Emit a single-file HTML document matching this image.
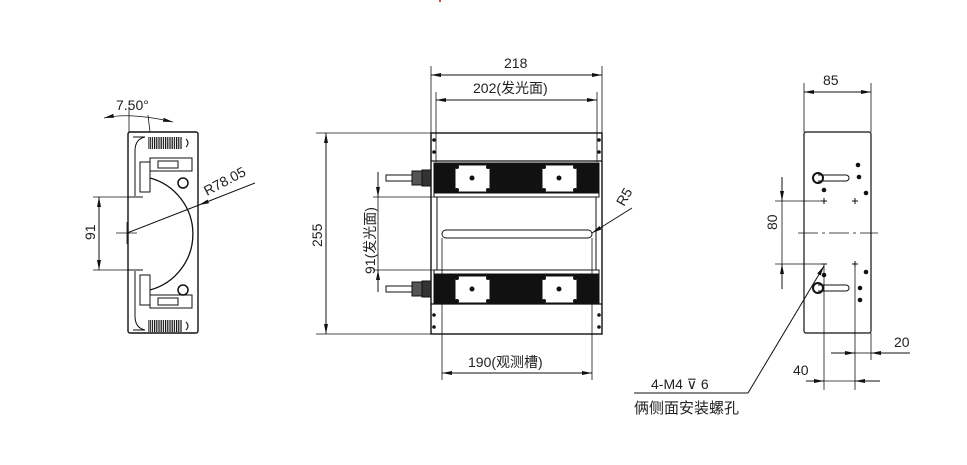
<!DOCTYPE html>
<html><head><meta charset="utf-8"><style>
html,body{margin:0;padding:0;background:#fff;}
svg{display:block}
text{font-family:"Liberation Sans","Noto Sans CJK SC",sans-serif;fill:#222;}
</style></head><body>
<svg width="967" height="465" viewBox="0 0 967 465" xmlns="http://www.w3.org/2000/svg">
<defs>
<marker id="a" viewBox="0 0 10 4" refX="10" refY="2" markerWidth="10" markerHeight="4" orient="auto-start-reverse" markerUnits="userSpaceOnUse"><path d="M0,0 L10,2 L0,4z" fill="#111"/></marker>
<pattern id="fin" width="2.2" height="10" patternUnits="userSpaceOnUse"><rect width="1.2" height="10" fill="#111"/></pattern>
</defs>
<rect x="439" y="0" width="2" height="2" fill="#d44"/>
<g stroke="#111" stroke-width="1" fill="none">
<!-- ===== LEFT VIEW ===== -->
<rect x="128" y="132" width="70" height="201" rx="2" stroke-width="1.4"/>
<rect x="148" y="137" width="34" height="12" fill="url(#fin)" stroke="none"/>
<rect x="148" y="320" width="34" height="12" fill="url(#fin)" stroke="none"/>
<path d="M186,139 q4,4 0,8 M186,322 q4,4 0,8"/>
<path d="M133,137 h12 q-10,2 -10,14 v45 M133,330 h12 q-10,-2 -10,-14 v-45"/>
<rect x="150" y="158" width="42" height="13"/><rect x="158" y="161" width="20" height="7"/>
<rect x="150" y="295" width="42" height="13"/><rect x="158" y="298" width="20" height="7"/>
<rect x="140" y="162" width="10" height="30"/><rect x="140" y="275" width="10" height="30"/>
<circle cx="183" cy="183" r="5" stroke-width="1.5"/><circle cx="183" cy="290" r="5" stroke-width="1.5"/>
<path d="M150,178 A58,58 0 0 1 150,290" stroke-width="1.3"/>
<path d="M128,197 h15 M128,270 h15"/>
<line x1="93" y1="197" x2="128" y2="197" stroke-width="0.8"/>
<line x1="93" y1="270" x2="128" y2="270" stroke-width="0.8"/>
<line x1="99" y1="197" x2="99" y2="270" marker-start="url(#a)" marker-end="url(#a)"/>
<line x1="116" y1="233" x2="137" y2="233" stroke-width="0.8"/>
<line x1="127" y1="222" x2="127" y2="244" stroke-width="0.8"/>
<line x1="127" y1="233" x2="199" y2="205"/>
<line x1="199" y1="205" x2="255" y2="183" marker-start="url(#a)"/>
<line x1="129" y1="107" x2="129" y2="132" stroke-width="0.8"/>
<line x1="148" y1="115" x2="150" y2="132" stroke-width="0.8"/>
<path d="M104,118 Q130,112 173,122" marker-start="url(#a)" marker-end="url(#a)" stroke-width="0.8"/>
<!-- ===== MIDDLE VIEW ===== -->
<line x1="431" y1="66" x2="431" y2="133" stroke-width="0.8"/>
<line x1="602" y1="66" x2="602" y2="133" stroke-width="0.8"/>
<line x1="431" y1="75" x2="602" y2="75" marker-start="url(#a)" marker-end="url(#a)"/>
<line x1="436" y1="92" x2="436" y2="162" stroke-width="0.8"/>
<line x1="597" y1="92" x2="597" y2="162" stroke-width="0.8"/>
<line x1="436" y1="100" x2="597" y2="100" marker-start="url(#a)" marker-end="url(#a)"/>
<rect x="431" y="133" width="171" height="201" stroke-width="1.4"/>
<line x1="431" y1="161" x2="602" y2="161" stroke-width="1.2"/>
<line x1="431" y1="304" x2="602" y2="304" stroke-width="1.2"/>
<rect x="434" y="163" width="165" height="30" fill="#111"/>
<rect x="434" y="274" width="165" height="30" fill="#111"/>
<rect x="434" y="193" width="165" height="4"/>
<rect x="434" y="270" width="165" height="4"/>
<line x1="437" y1="197" x2="437" y2="270"/>
<line x1="596" y1="197" x2="596" y2="270"/>
<path d="M446,230 H588 A4,4 0 0 1 588,238 H446 A4,4 0 0 1 446,230z"/>
<line x1="442" y1="238" x2="442" y2="380" stroke-width="0.8"/>
<line x1="592" y1="238" x2="592" y2="380" stroke-width="0.8"/>
<line x1="442" y1="373" x2="592" y2="373" marker-start="url(#a)" marker-end="url(#a)"/>
<line x1="316" y1="133" x2="431" y2="133" stroke-width="0.8"/>
<line x1="316" y1="334" x2="431" y2="334" stroke-width="0.8"/>
<line x1="326" y1="133" x2="326" y2="334" marker-start="url(#a)" marker-end="url(#a)"/>
<line x1="373" y1="197" x2="434" y2="197" stroke-width="0.8"/>
<line x1="373" y1="270" x2="434" y2="270" stroke-width="0.8"/>
<line x1="378" y1="172" x2="378" y2="197" marker-end="url(#a)"/>
<line x1="378" y1="292" x2="378" y2="270" marker-end="url(#a)"/>
<line x1="378" y1="197" x2="378" y2="270" stroke-width="0.8"/>
<line x1="592" y1="233" x2="632" y2="208" marker-start="url(#a)"/>
<rect x="386" y="175" width="26" height="6"/><rect x="412" y="171" width="10" height="14" fill="#555"/><rect x="422" y="170" width="9" height="16" fill="#333"/>
<rect x="386" y="286" width="26" height="6"/><rect x="412" y="282" width="10" height="14" fill="#555"/><rect x="422" y="281" width="9" height="16" fill="#333"/>
</g>
<g fill="#fff" stroke="#111">
<rect x="455" y="165" width="35" height="27"/><rect x="542" y="165" width="35" height="27"/>
<rect x="455" y="276" width="35" height="27"/><rect x="542" y="276" width="35" height="27"/>
</g>
<g fill="#111">
<circle cx="472" cy="178" r="2.5"/><circle cx="559" cy="178" r="2.5"/><circle cx="472" cy="289" r="2.5"/><circle cx="559" cy="289" r="2.5"/>
<circle cx="457" cy="167" r="2"/><circle cx="488" cy="167" r="2"/><circle cx="457" cy="190" r="2"/><circle cx="488" cy="190" r="2"/>
<circle cx="544" cy="167" r="2"/><circle cx="575" cy="167" r="2"/><circle cx="544" cy="190" r="2"/><circle cx="575" cy="190" r="2"/>
<circle cx="457" cy="278" r="2"/><circle cx="488" cy="278" r="2"/><circle cx="457" cy="301" r="2"/><circle cx="488" cy="301" r="2"/>
<circle cx="544" cy="278" r="2"/><circle cx="575" cy="278" r="2"/><circle cx="544" cy="301" r="2"/><circle cx="575" cy="301" r="2"/>
<circle cx="434" cy="140" r="1.8"/><circle cx="434" cy="152" r="1.8"/><circle cx="599" cy="140" r="1.8"/><circle cx="599" cy="152" r="1.8"/>
<circle cx="434" cy="315" r="1.8"/><circle cx="434" cy="327" r="1.8"/><circle cx="599" cy="315" r="1.8"/><circle cx="599" cy="327" r="1.8"/>
<circle cx="858" cy="165" r="2.3"/><circle cx="859" cy="177" r="2.3"/><circle cx="866" cy="193" r="2.3"/><circle cx="824" cy="190" r="2.3"/>
<circle cx="866" cy="272" r="2.3"/><circle cx="860" cy="288" r="2.3"/><circle cx="860" cy="300" r="2.3"/><circle cx="824" cy="275" r="2.3"/>
</g>
<g stroke="#111" fill="none" stroke-width="1">
<rect x="804" y="132" width="67" height="201" rx="2" stroke-width="1.2"/>
<line x1="804" y1="83" x2="804" y2="132" stroke-width="0.8"/>
<line x1="871" y1="83" x2="871" y2="132" stroke-width="0.8"/>
<line x1="804" y1="92" x2="871" y2="92" marker-start="url(#a)" marker-end="url(#a)"/>
<line x1="798" y1="233" x2="878" y2="233" stroke-dasharray="20,4,3,4" stroke-width="0.8"/>
<line x1="775" y1="201" x2="825" y2="201" stroke-width="0.8"/>
<line x1="775" y1="264" x2="825" y2="264" stroke-width="0.8"/>
<line x1="782" y1="177" x2="782" y2="201" marker-end="url(#a)"/>
<line x1="782" y1="289" x2="782" y2="264" marker-end="url(#a)"/>
<line x1="782" y1="201" x2="782" y2="264" stroke-width="0.8"/>
<path d="M821,201 h6 M824,198 v6 M852,201 h6 M855,198 v6 M821,264 h6 M852,264 h6 M855,261 v6"/>
<circle cx="818" cy="178" r="5" stroke-width="2"/><path d="M818,175 H846 A3,3 0 0 1 846,181 H818"/>
<circle cx="818" cy="288" r="5" stroke-width="2"/><path d="M818,285 H846 A3,3 0 0 1 846,291 H818"/>
<line x1="824" y1="264" x2="824" y2="390" stroke-width="0.8"/>
<line x1="855" y1="264" x2="855" y2="390" stroke-width="0.8"/>
<line x1="871" y1="333" x2="871" y2="360" stroke-width="0.8"/>
<line x1="831" y1="353" x2="855" y2="353" marker-end="url(#a)"/>
<line x1="910" y1="353" x2="871" y2="353" marker-end="url(#a)"/>
<line x1="855" y1="353" x2="871" y2="353" stroke-width="0.8"/>
<line x1="806" y1="381" x2="824" y2="381" marker-end="url(#a)"/>
<line x1="880" y1="381" x2="855" y2="381" marker-end="url(#a)"/>
<line x1="824" y1="381" x2="855" y2="381" stroke-width="0.8"/>
<line x1="748" y1="393" x2="824" y2="266" marker-end="url(#a)"/>
<line x1="634" y1="393" x2="748" y2="393"/>
</g>
<g font-size="14">
<text x="504" y="68">218</text>
<text x="473" y="93">202(发光面)</text>
<text x="468" y="367">190(观测槽)</text>
<text transform="translate(322,247) rotate(-90)">255</text>
<text transform="translate(375,274) rotate(-90)">91(发光面)</text>
<text transform="translate(624,207) rotate(-60)">R5</text>
<text x="823" y="85">85</text>
<text transform="translate(777,230) rotate(-90)">80</text>
<text x="894" y="347">20</text>
<text x="793" y="375">40</text>
<text x="651" y="389">4-M4  ⊽  6</text>
<text x="634" y="413" font-size="15">俩侧面安装螺孔</text>
<text transform="translate(95,240) rotate(-90)">91</text>
<text transform="translate(207,196) rotate(-28)">R78.05</text>
<text x="116" y="110">7.50°</text>
</g>
</svg>
</body></html>
